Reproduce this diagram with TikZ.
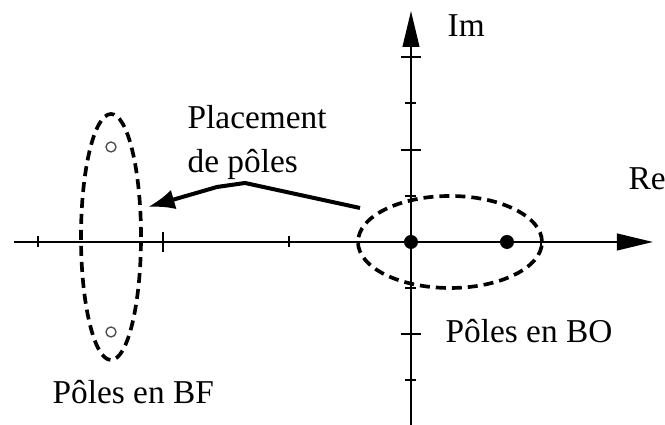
\documentclass[tikz,border=0pt]{standalone}
\usepackage{fontspec}
\setmainfont{Liberation Serif}
\usetikzlibrary{positioning, arrows.meta, shapes.geometric}

\begin{document}
\begin{tikzpicture}[
        x=0.3pt, y=-0.3pt,
        font=\fontsize{10}{11.7}\selectfont,
        axisLine/.style={line width=0.6pt, -{Triangle[length=10.8pt, width=5pt]}},
        tickMark/.style={line width=0.6pt},
        zone/.style={draw, ellipse, dash pattern=on 3pt off 1.8pt, line width=1.1pt, inner sep=0pt, outer sep=0pt},
        openPole/.style={draw=black!70, circle, line width=0.4pt, minimum size=3pt, inner sep=0pt},
        closedPole/.style={fill, circle, minimum size=4.2pt, inner sep=0pt},
        txtLabel/.style={inner sep=0pt, anchor=base west, align=left},
        arrow/.style={-{Latex[length=8pt, width=6pt]}, line width=1.2pt}
    ]
        \useasboundingbox (0,0) rectangle (665,425);

        % Axes
        \coordinate (origin) at (411,242);
        \coordinate (reStart) at (14,242);
        \coordinate (reEnd) at (653,242);
        \coordinate (imStart) at (411,425);
        \coordinate (imEnd) at (411,11);
        \draw[axisLine] (reStart) -- (reEnd);
        \draw[axisLine] (imStart) -- (imEnd);

        % Ticks
        \foreach \x/\h in {38/5.5, 163/10, 289/5.5, 541/5.5}
            \draw[tickMark] (\x,242-\h) -- (\x,242+\h);
        \foreach \y/\w in {57/10, 103/5.5, 150/10, 196/5.5, 288/5.5, 334/10, 380/5.5}
            \draw[tickMark] (411-\w,\y) -- (411+\w,\y);

        % Zones and poles
        \node[zone, minimum width=18pt, minimum height=73.8pt] (bfZone) at (111,237) {};
        \node[zone, minimum width=55.2pt, minimum height=27.6pt] (boZone) at (450,242) {};
        \node[openPole] (bfPoleA) at (111,147) {};
        \node[openPole] (bfPoleB) at (111,332) {};
        \node[closedPole] (boPoleA) at (origin) {};
        \node[closedPole] (boPoleB) at (507,242) {};

        % Labels
        \node[txtLabel] (im) at (447,37) {Im};
        \node[txtLabel] (re) at (628,190) {Re};
        \node[txtLabel, anchor=north west] (placement) at (187,105) {Placement\\[1.5pt]de pôles};
        \node[txtLabel] (boLabel) at (445,343) {Pôles en BO};
        \node[txtLabel] (bfLabel) at (52,404) {Pôles en BF};

        % Arrow
        \coordinate (arrowStart) at (360,208);
        \coordinate (bendA) at (245,183);
        \coordinate (bendB) at (217,187);
        \coordinate (arrowTip) at (148,207);
        \draw[arrow] (arrowStart) -- (bendA) -- (bendB) -- (arrowTip);
    \end{tikzpicture}
\end{document}
